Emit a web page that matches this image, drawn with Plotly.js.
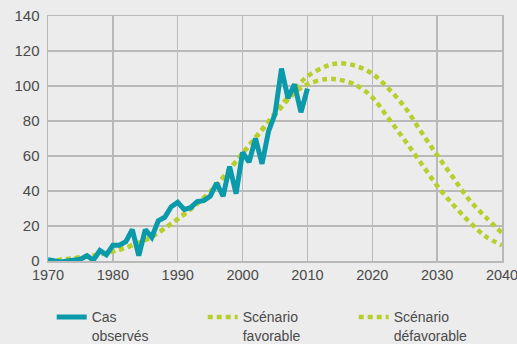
<!DOCTYPE html>
<html>
<head>
<meta charset="utf-8">
<script src="https://cdn.plot.ly/plotly-3.0.1.min.js"></script>
<style>
html,body{margin:0;padding:0;background:#ececec;}
#chart{width:517px;height:344px;}
</style>
</head>
<body>
<div id="chart"></div>
<script>
// Observed cases (yearly)
const obsYears = [1970,1971,1972,1973,1974,1975,1976,1977,1978,1979,
                  1980,1981,1982,1983,1984,1985,1986,1987,1988,1989,
                  1990,1991,1992,1993,1994,1995,1996,1997,1998,1999,
                  2000,2001,2002,2003,2004,2005,2006,2007,2008,2009,2010];
const obsValues = [0.8,0.5,-0.5,0,0.5,1,3,0.5,6,3.5,
                   9,9,11,18,3,18,13.5,23,25,31,
                   33.5,29.5,30.5,34,34.5,37,44.5,37,54,38.5,
                   62,56.5,70,55.5,74,84,110,93,101,85,98.5];

// Favourable scenario
const favYears  = [1970,1975,1980,1985,1990,1995,2000,2005,2008,2010,2013,2015,2017.5,2020,2022.5,2025,2027.5,2030,2032.5,2035,2037.5,2040];
const favValues = [0,2,5.5,12,24,39.5,61.5,83.5,96,101,104,103.5,100.5,93.5,81.5,69,56,43,32,22.3,14,9];

// Unfavourable scenario
const defYears  = [1970,1975,1980,1985,1990,1995,2000,2005,2008,2010,2013,2015,2017.5,2020,2022.5,2025,2027.5,2030,2032.5,2035,2037.5,2040];
const defValues = [0,2,5.5,12,24,39.5,61.5,84.5,98,105.5,111.5,113,111.5,107,98.5,88,74,60.5,47.5,34.7,25,16];

const xTicks = [1970,1980,1990,2000,2010,2020,2030,2040];
const yTicks = [0,20,40,60,80,100,120,140];

const teal = '#0a9aaa';
const lime = '#b8ce2c';
const gridC = '#b9b9b9';
const txt = '#4a4a4a';

const traces = [
  {x: favYears, y: favValues, name: 'Scénario<br>favorable', mode: 'lines', legendrank: 2,
   line: {color: lime, width: 4.5, dash: '5px,4px', shape: 'spline', smoothing: 1}},
  {x: defYears, y: defValues, name: 'Scénario<br>défavorable', mode: 'lines', legendrank: 3,
   line: {color: lime, width: 4.5, dash: '5px,4px', shape: 'spline', smoothing: 1}},
  {x: obsYears, y: obsValues, name: 'Cas<br>observés', mode: 'lines', legendrank: 1,
   line: {color: teal, width: 5, shape: 'linear'}}
];

const layout = {
  width: 517, height: 344,
  paper_bgcolor: '#ececec', plot_bgcolor: '#ececec',
  margin: {l: 48, r: 15, t: 16, b: 83},
  font: {family: 'Liberation Sans, Arial, sans-serif', size: 15, color: txt},
  xaxis: {range: [1970, 2040], tickvals: xTicks, ticktext: xTicks.map(String),
          showgrid: true, gridcolor: gridC, gridwidth: 1.5, zeroline: false,
          showline: true, mirror: true, linecolor: gridC, linewidth: 1.5,
          ticks: '', ticklabeloverflow: 'allow', fixedrange: true, tickfont: {size: 14.5, color: txt}},
  yaxis: {range: [0, 140], tickvals: yTicks, ticktext: yTicks.map(String),
          showgrid: true, gridcolor: gridC, gridwidth: 1.5, zeroline: false,
          showline: true, mirror: true, linecolor: gridC, linewidth: 1.5,
          ticks: '', ticklabelstandoff: 4, fixedrange: true, tickfont: {size: 15, color: txt}},
  showlegend: true,
  legend: {orientation: 'h', xref: 'container', yref: 'container', x: 0.1, y: 0.124,
           xanchor: 'left', yanchor: 'top', traceorder: 'normal',
           entrywidth: 106, entrywidthmode: 'pixels', itemwidth: 30, valign: 'top',
           font: {size: 14, color: txt}, bgcolor: 'rgba(0,0,0,0)'}
};

Plotly.newPlot('chart', traces, layout, {displayModeBar: false, staticPlot: true});
</script>
</body>
</html>
